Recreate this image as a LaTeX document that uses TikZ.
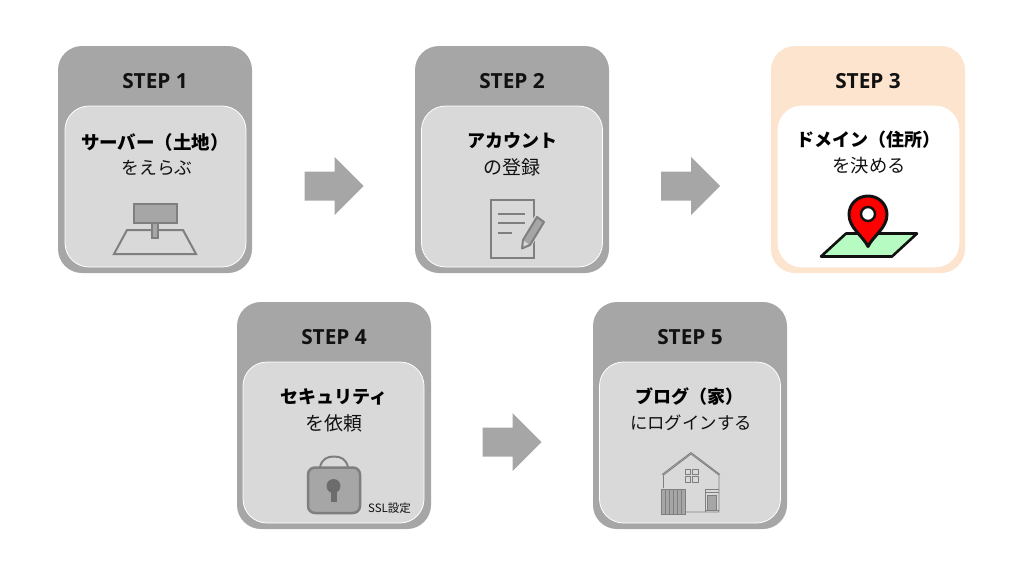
\documentclass[tikz,border=0pt]{standalone}
\usepackage{fontspec}
\setmainfont{Noto Sans}
\newfontfamily\jp{Noto Sans CJK JP}
\newfontfamily\ttlb{Open Sans}[BoldFont={Open Sans Bold},FakeBold=0]
\definecolor{cardgray}{HTML}{A6A6A6}
\definecolor{innergray}{HTML}{D9D9D9}
\definecolor{icongray}{HTML}{7F7F7F}
\definecolor{peach}{HTML}{FCE4CF}
\definecolor{mapgreen}{HTML}{B5FBC2}
\definecolor{ink}{HTML}{111111}
\tikzset{
  outercard/.style={rectangle,rounded corners=24pt,fill=cardgray,minimum width=194pt,minimum height=227pt,inner sep=0pt,draw=none},
  innercard/.style={rectangle,rounded corners=24pt,fill=innergray,draw=white,line width=0.8pt,minimum width=181pt,minimum height=161pt,inner sep=0pt},
  steptitle/.style={font=\ttlb\fontsize{20.8}{21}\selectfont\bfseries,text=ink,inner sep=0pt},
  headline/.style={font=\jp\fontsize{18}{19}\selectfont\bfseries,text=black,inner sep=0pt},
  subline/.style={text=ink,inner sep=0pt},
  blockarrow/.style={fill=cardgray,draw=none},
  iconline/.style={draw=icongray,line width=2pt,line join=miter},
  iconthin/.style={draw=icongray,line width=0.9pt},
}
\newcommand{\blockat}[2]{%
  \fill[blockarrow] (#1+0,#2+14.5) -- (#1+30,#2+14.5) -- (#1+30,#2) -- (#1+59,#2+29) -- (#1+30,#2+58) -- (#1+30,#2+43.5) -- (#1+0,#2+43.5) -- cycle;}
\newcommand{\subsz}[1]{\jp\fontsize{#1}{19}\selectfont}
\begin{document}
\begin{tikzpicture}[x=1pt,y=-1pt]
\useasboundingbox (0,0) rectangle (1024,576);
% cards
\node[outercard] (o1) at (155,159.5) {};
\node[innercard] (i1) at (155.5,186.5) {};
\node[outercard] (o2) at (512,159.5) {};
\node[innercard] (i2) at (512,186.5) {};
\node[outercard,fill=peach] (o3) at (868,159.5) {};
\node[innercard,fill=white] (i3) at (868.5,186.5) {};
\node[outercard] (o4) at (334,415.5) {};
\node[innercard] (i4) at (333.5,442.5) {};
\node[outercard] (o5) at (690,415.5) {};
\node[innercard] (i5) at (690,442.5) {};
% titles
\node[steptitle] (s1) at (155,81) {STEP 1};
\node[steptitle] (s2) at (512,81) {STEP 2};
\node[steptitle] (s3) at (868,81) {STEP 3};
\node[steptitle] (s4) at (334,337) {STEP 4};
\node[steptitle] (s5) at (690,337) {STEP 5};
% texts
\node[headline,font=\jp\fontsize{18.5}{19}\selectfont\bfseries] (h1) at (155,142) {サーバー（土地）};
\node[subline,font=\subsz{17.8}] (t1) at (157,168) {をえらぶ};
\node[headline] (h2) at (512,141) {アカウント};
\node[subline,font=\subsz{19}] (t2) at (512,167.5) {の登録};
\node[headline] (h3) at (868.5,140) {ドメイン（住所）};
\node[subline,font=\subsz{18.3}] (t3) at (869,165.5) {を決める};
\node[headline] (h4) at (334,397) {セキュリティ};
\node[subline,font=\subsz{19}] (t4) at (334,423.5) {を依頼};
\node[headline] (h5) at (689,397) {ブログ（家）};
\node[subline,font=\subsz{17.4}] (t5) at (691,423) {にログインする};
\node[font=\jp\fontsize{11.5}{12}\selectfont,text=ink,inner sep=0pt] (ssl) at (389.5,508.5) {SSL設定};
% arrows
\blockat{304.5}{157}
\blockat{661}{157}
\blockat{482.5}{413}
% icon 1: land with sign
\draw[iconline] (127,230) -- (183,230) -- (196,254) -- (114,254) -- cycle;
\draw[iconline,fill=cardgray] (152,222) rectangle (158,238);
\draw[iconline,fill=cardgray] (133.5,204) rectangle (176.5,223);
% icon 2: document and pencil
\draw[iconline] (490.5,200) rectangle (534,258);
\draw[iconline] (498,214) -- (525,214);
\draw[iconline] (498,223) -- (525,223);
\draw[iconline] (498,233) -- (512,233);
\fill[innergray] (536,214) -- (546,221) -- (531,247) -- (520,251) -- (521,238) -- cycle;
\draw[iconline,fill=cardgray,line join=round] (537,217) -- (544,222) -- (530,245) -- (522,248.5) -- (523,240) -- cycle;
\fill[innergray] (524,241) -- (528.5,244) -- (523.5,246.5) -- cycle;
% icon 3: map pin
\draw[draw=ink,fill=mapgreen,line width=2.6pt,line join=round] (846,233.5) -- (917,233.5) -- (892,256.5) -- (821,256.5) -- cycle;
\draw[draw=ink,fill=red,line width=3pt,line join=round]
  (868,246.5) .. controls (863,236) and (849,228) .. (849,214.5)
  .. controls (849,204) and (857.5,196) .. (868,196)
  .. controls (878.5,196) and (887,204) .. (887,214.5)
  .. controls (887,228) and (873,236) .. (868,246.5) -- cycle;
\draw[draw=ink,fill=white,line width=2.4pt] (868,214) circle (7pt);
% icon 4: lock
\draw[draw=icongray,line width=2pt] (320,467) .. controls (322,459) and (327,456.5) .. (334,456.5) .. controls (341,456.5) and (346,459) .. (348,467);
\draw[draw=icongray,line width=2.5pt,fill=cardgray,rounded corners=7pt] (308,467.5) rectangle (360,513);
\fill[icongray!85!black] (333.5,486) circle (7pt);
\fill[icongray!85!black] (330.5,488) rectangle (336.5,502);
% icon 5: house
\draw[iconthin] (663.5,488) -- (663.5,475) -- (691,454) -- (719,475) -- (719,512) -- (685,512);
\draw[iconthin] (662,474.5) -- (691,452.5) -- (720,474.5);
\draw[iconthin] (685,469) rectangle (690.5,474.5);
\draw[iconthin] (692.5,469) rectangle (698,474.5);
\draw[iconthin] (685,476.5) rectangle (690.5,482);
\draw[iconthin] (692.5,476.5) rectangle (698,482);
\draw[iconthin,fill=cardgray] (661.5,489) rectangle (685,514);
\foreach \gx in {665.5,669.5,673.5,677.5,681.5}{\draw[draw=icongray,line width=0.8pt] (\gx,489) -- (\gx,514);}
\draw[iconthin] (705,512) -- (705,489) -- (719,489);
\draw[iconthin] (705,492.5) -- (719,492.5);
\draw[iconthin,fill=cardgray] (707.5,495) rectangle (716.5,510);
\draw[iconthin] (705,510) -- (719,510);
\end{tikzpicture}
\end{document}
